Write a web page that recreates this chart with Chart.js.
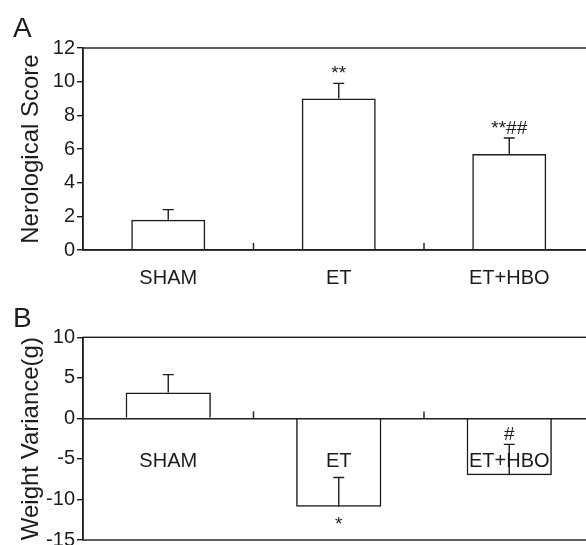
<!DOCTYPE html>
<html>
<head>
<meta charset="utf-8">
<script src="https://cdn.jsdelivr.net/npm/chart.js@4.4.1/dist/chart.umd.min.js"></script>
<style>
  html, body { margin: 0; padding: 0; background: #fff; overflow: hidden; width: 586px; height: 545px; }
  .panel { position: absolute; left: 0; width: 600px; }
  #panelA { top: 0; height: 290px; }
  #panelB { top: 290px; height: 270px; }
</style>
</head>
<body>
<div class="panel" id="panelA"><canvas id="chartA" width="600" height="290"></canvas></div>
<div class="panel" id="panelB"><canvas id="chartB" width="600" height="270"></canvas></div>
<script>
const groups = ['SHAM', 'ET', 'ET+HBO'];

// panel A - neurological score
const scoreMeans = [1.8, 9.0, 5.7];
const scoreErrors = [0.6, 0.9, 0.95];
const scoreMarks = ['', '**', '**##'];
const scoreMarkSides = ['above', 'above', 'above'];
const scoreTicks = [0, 2, 4, 6, 8, 10, 12];

// panel B - weight variance
const weightMeans = [3.2, -10.9, -7.0];
const weightErrors = [2.2, 3.6, 3.8];
const weightMarks = ['', '*', '#'];
const weightMarkSides = ['above', 'below', 'above'];
const weightTicks = [-15, -10, -5, 0, 5, 10];

const ink = '#1c1c1c';
const family = '"Liberation Sans", Arial, Helvetica, sans-serif';

// frame, inner ticks, error bars, significance marks, panel letter
const figurePlugin = {
    id: 'figure',
    afterDatasetsDraw(chart, args, opts) {
        const { ctx, chartArea: a, scales: { x, y } } = chart;
        const meta = chart.getDatasetMeta(0);
        ctx.save();
        ctx.strokeStyle = ink;
        ctx.fillStyle = ink;
        ctx.lineWidth = 1.4;
        ctx.strokeRect(a.left, a.top, a.right - a.left, a.bottom - a.top);

        const base = y.getPixelForValue(0);
        for (let i = 1; i < groups.length; i++) {
            const tx = (x.getPixelForValue(i - 1) + x.getPixelForValue(i)) / 2;
            ctx.beginPath();
            ctx.moveTo(tx, base);
            ctx.lineTo(tx, base - 7);
            ctx.stroke();
        }

        meta.data.forEach((bar, i) => {
            const y0 = y.getPixelForValue(opts.means[i]);
            const y1 = y.getPixelForValue(opts.means[i] + opts.errors[i]);
            ctx.beginPath();
            ctx.moveTo(bar.x, y0);
            ctx.lineTo(bar.x, y1);
            ctx.moveTo(bar.x - 5.5, y1);
            ctx.lineTo(bar.x + 5.5, y1);
            ctx.stroke();

            const mark = opts.marks[i];
            if (mark) {
                ctx.font = '19px ' + family;
                ctx.textAlign = 'center';
                ctx.textBaseline = 'alphabetic';
                const ty = opts.sides[i] === 'below' ? y0 + 23 : y1 - 4;
                ctx.fillText(mark, bar.x, ty);
            }
        });

        ctx.font = '28px ' + family;
        ctx.textAlign = 'left';
        ctx.textBaseline = 'alphabetic';
        ctx.fillText(opts.letter, 13, 37);
        ctx.restore();
    }
};

function buildPanel(canvasId, p) {
    const ticks = p.ticks;
    return new Chart(document.getElementById(canvasId), {
        type: 'bar',
        data: {
            labels: groups,
            datasets: [{
                data: p.means,
                backgroundColor: 'rgba(255,255,255,0)',
                borderColor: ink,
                borderWidth: 1.5,
                barPercentage: 1,
                categoryPercentage: p.barShare,
            }],
        },
        options: {
            responsive: false,
            animation: false,
            layout: { padding: { top: p.padTop, bottom: p.padBottom, left: 0, right: 5.5 } },
            scales: {
                x: {
                    position: p.xPosition,
                    offset: true,
                    grid: { display: false, drawTicks: false },
                    border: { display: true, color: ink, width: 1.4 },
                    ticks: { color: ink, padding: p.labelPad, font: { family: family, size: 20, lineHeight: 1.2 } },
                    afterFit: (scale) => { scale.height = p.xHeight; },
                },
                y: {
                    min: ticks[0],
                    max: ticks[ticks.length - 1],
                    grid: { display: true, drawOnChartArea: false, drawTicks: true, tickLength: 6, color: ink, lineWidth: 1.4 },
                    border: { display: true, color: ink, width: 1.4 },
                    ticks: { stepSize: ticks[1] - ticks[0], padding: 2, color: ink, font: { family: family, size: 20 } },
                    title: {
                        display: true,
                        text: p.title,
                        color: ink,
                        padding: { top: 17, bottom: 0 },
                        font: { family: family, size: 24, lineHeight: 1.2 },
                    },
                    afterFit: (scale) => { scale.width = 83; },
                },
            },
            plugins: {
                legend: { display: false },
                tooltip: { enabled: false },
                figure: { means: p.means, errors: p.errors, marks: p.marks, sides: p.sides, letter: p.letter },
            },
        },
        plugins: [figurePlugin],
    });
}

buildPanel('chartA', {
    means: scoreMeans, errors: scoreErrors, marks: scoreMarks, sides: scoreMarkSides, ticks: scoreTicks,
    title: 'Nerological Score', letter: 'A', barShare: 0.434,
    padTop: 48, padBottom: 0, xHeight: 40, xPosition: 'bottom', labelPad: 16,
});

buildPanel('chartB', {
    means: weightMeans, errors: weightErrors, marks: weightMarks, sides: weightMarkSides, ticks: weightTicks,
    title: 'Weight Variance(g)', letter: 'B', barShare: 0.5,
    padTop: 47.3, padBottom: 20, xHeight: 0, xPosition: { y: 0 }, labelPad: 31,
});
</script>
</body>
</html>
